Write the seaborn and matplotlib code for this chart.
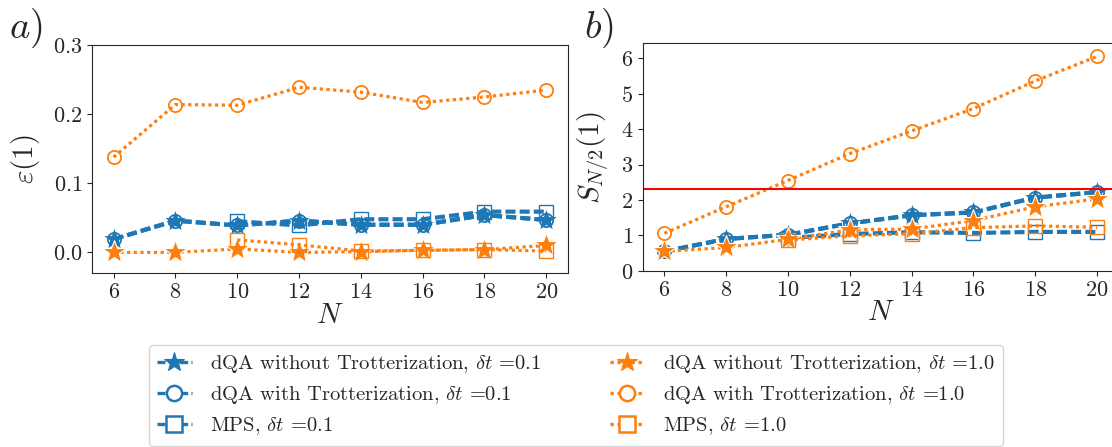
import matplotlib
matplotlib.use("Agg")
import matplotlib.pyplot as plt
from matplotlib.lines import Line2D
import seaborn as sns
import pandas as pd

N = [6, 8, 10, 12, 14, 16, 18, 20]
N_mps = [10, 12, 14, 16, 18, 20]

# panel a) error eps(1)
eps_notrot_01 = [0.019, 0.046, 0.039, 0.046, 0.040, 0.040, 0.054, 0.047]
eps_trot_01 = [0.019, 0.046, 0.039, 0.046, 0.040, 0.040, 0.054, 0.047]
eps_mps_01 = [0.045, 0.039, 0.048, 0.048, 0.059, 0.059]
eps_notrot_10 = [0.000, 0.000, 0.005, 0.000, 0.001, 0.003, 0.004, 0.010]
eps_trot_10 = [0.138, 0.214, 0.213, 0.239, 0.232, 0.217, 0.225, 0.235]
eps_mps_10 = [0.018, 0.011, 0.002, 0.003, 0.004, 0.002]

# panel b) half-chain entropy
S_notrot_01 = [0.55, 0.90, 1.02, 1.34, 1.57, 1.65, 2.07, 2.22]
S_trot_01 = [0.55, 0.90, 1.02, 1.34, 1.57, 1.65, 2.07, 2.22]
S_mps_01 = [0.93, 1.04, 1.09, 1.07, 1.10, 1.10]
S_notrot_10 = [0.55, 0.66, 0.89, 1.16, 1.18, 1.42, 1.81, 2.03]
S_trot_10 = [1.06, 1.81, 2.55, 3.31, 3.95, 4.58, 5.36, 6.05]
S_mps_10 = [0.87, 0.99, 1.05, 1.22, 1.27, 1.23]
S_max = 2.3

labels = [
    r'dQA without Trotterization, $\delta t$ =0.1',
    r'dQA with Trotterization, $\delta t$ =0.1',
    r'MPS, $\delta t$ =0.1',
    r'dQA without Trotterization, $\delta t$ =1.0',
    r'dQA with Trotterization, $\delta t$ =1.0',
    r'MPS, $\delta t$ =1.0',
]

sns.set_style("ticks")
plt.rcParams['font.family'] = ['serif']
plt.rcParams['font.serif'] = ['cmr10', 'DejaVu Serif']
plt.rcParams['mathtext.fontset'] = 'cm'
plt.rcParams['axes.formatter.use_mathtext'] = True
plt.rcParams['axes.unicode_minus'] = False

blue, orange = '#1f77b4', '#ff7f0e'
dash = (0, (2.4, 1.0))
dot = (0, (1.0, 1.1))

styles = [
    dict(color=blue, linestyle=dash, linewidth=3, marker='*', markersize=18,
         markeredgecolor='w', markeredgewidth=0.8),
    dict(color=blue, linestyle=dash, linewidth=3, marker='o', markersize=9.5,
         markerfacecolor='none', markeredgecolor=blue, markeredgewidth=1.3),
    dict(color=blue, linestyle=dash, linewidth=3, marker='s', markersize=10,
         markerfacecolor='none', markeredgecolor=blue, markeredgewidth=1.0),
    dict(color=orange, linestyle=dot, linewidth=2.3, marker='*', markersize=18,
         markeredgecolor='w', markeredgewidth=0.8),
    dict(color=orange, linestyle=dot, linewidth=2.3, marker='o', markersize=9.5,
         markerfacecolor='none', markeredgecolor=orange, markeredgewidth=1.3),
    dict(color=orange, linestyle=dot, linewidth=2.3, marker='s', markersize=10,
         markerfacecolor='none', markeredgecolor=orange, markeredgewidth=1.0),
]

fig = plt.figure(figsize=(11.12, 4.47), dpi=100)
ax_a = fig.add_axes([0.0827, 0.389, 0.428, 0.510])
ax_b = fig.add_axes([0.578, 0.394, 0.428, 0.509])

series_a = [(N, eps_notrot_01), (N, eps_trot_01), (N_mps, eps_mps_01),
            (N, eps_notrot_10), (N, eps_trot_10), (N_mps, eps_mps_10)]
series_b = [(N, S_notrot_01), (N, S_trot_01), (N_mps, S_mps_01),
            (N, S_notrot_10), (N, S_trot_10), (N_mps, S_mps_10)]

for ax, series in [(ax_a, series_a), (ax_b, series_b)]:
    for (xs, ys), st in zip(series, styles):
        df = pd.DataFrame({'N': xs, 'val': ys})
        sns.lineplot(data=df, x='N', y='val', ax=ax, legend=False, **st)
    ax.set_xticks(N)
    ax.tick_params(labelsize=16)
    ax.set_xlabel(r'$N$', fontsize=21, labelpad=0)

ax_b.axhline(S_max, color='red', lw=1.5)

ax_a.set_ylim(-0.03, 0.3)
ax_a.set_yticks([0.0, 0.1, 0.2, 0.3])
ax_a.set_ylabel(r'$\varepsilon(1)$', fontsize=21, labelpad=8)
ax_b.set_ylim(0, 6.42)
ax_b.set_yticks(range(7))
ax_b.set_ylabel(r'$S_{N/2}(1)$', fontsize=21, labelpad=6)

fig.text(0.008, 0.915, r'$a)$', fontsize=28)
fig.text(0.525, 0.915, r'$b)$', fontsize=28)

# legend proxies: hollow markers get a white face so the line stops at them
handles = []
for st in styles:
    kw = dict(st)
    kw['linewidth'] = 2.4
    if kw.get('markerfacecolor') == 'none':
        kw['markerfacecolor'] = 'white'
        kw['markersize'] = 11
        kw['markeredgewidth'] = 1.8
    else:
        kw['markeredgecolor'] = kw['color']
        kw['markersize'] = 15
    handles.append(Line2D([], [], **kw))
fig.legend(handles, labels, loc='lower center', bbox_to_anchor=(0.518, 0.003),
           ncol=2, fontsize=14.8, columnspacing=3.3, handlelength=1.7,
           handletextpad=0.9, labelspacing=0.45, borderpad=0.4,
           borderaxespad=0.0, frameon=True, fancybox=True)

fig.savefig('out.png', dpi=100)
